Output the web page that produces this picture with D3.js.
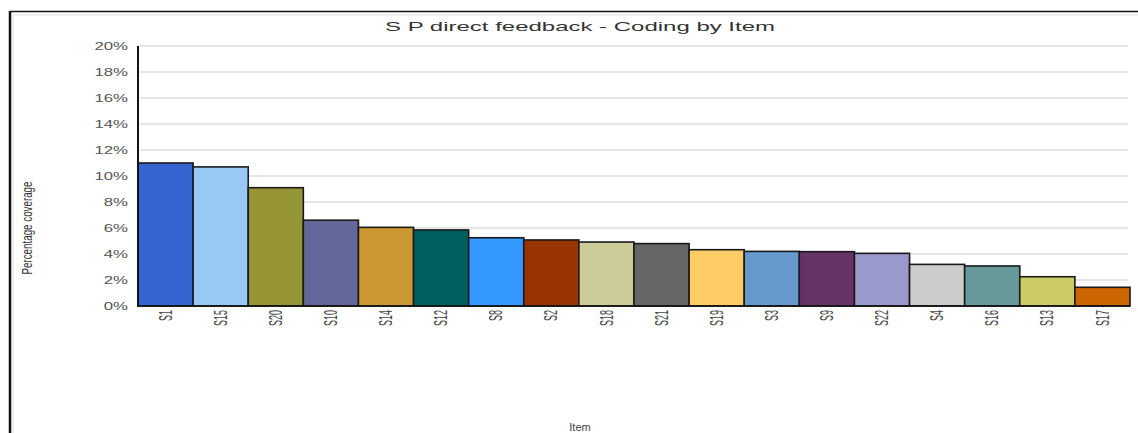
<!DOCTYPE html>
<html>
<head>
<meta charset="utf-8">
<script src="https://cdn.jsdelivr.net/npm/d3@7"></script>
<style>
  html, body { margin: 0; padding: 0; background: #fff; }
  svg { display: block; font-family: "Liberation Sans", Arial, sans-serif; }
</style>
</head>
<body>
<svg id="chart" width="1138" height="433"></svg>
<script>
const categories = ["S1","S15","S20","S10","S14","S12","S8","S2","S18","S21","S19","S3","S9","S22","S4","S16","S13","S17"];
const values = [11.0, 10.7, 9.1, 6.6, 6.05, 5.85, 5.25, 5.08, 4.92, 4.8, 4.33, 4.2, 4.18, 4.05, 3.2, 3.08, 2.25, 1.44];
const barColors = ["#3564D0","#98C9F5","#959535","#64679A","#CC9833","#00605F","#3399FF","#993300","#CCCC99","#666666","#FFCC66","#6699CC","#663366","#9999CC","#CCCCCC","#669999","#CCCC66","#CC6600"];
const yTicks = [0,2,4,6,8,10,12,14,16,18,20];
const title = "S P direct feedback - Coding by Item";
const xTitle = "Item";
const yTitle = "Percentage coverage";

const svg = d3.select("#chart");
const SX = 1.6; // horizontal stretch of the reference picture

const plot = { left: 138, right: 1130, top: 46, bottom: 306 };

const x = d3.scaleBand().domain(categories).range([plot.left, plot.right]).padding(0);
const y = d3.scaleLinear().domain([0, 20]).range([plot.bottom, plot.top]);

// frame
svg.append("line").attr("x1", 10).attr("x2", 1138).attr("y1", 11.5).attr("y2", 11.5)
  .attr("stroke", "#111").attr("stroke-width", 1.5);
svg.append("line").attr("x1", 10).attr("x2", 10).attr("y1", 11).attr("y2", 433)
  .attr("stroke", "#111").attr("stroke-width", 2.5);
svg.append("line").attr("x1", 13).attr("x2", 1138).attr("y1", 15).attr("y2", 15)
  .attr("stroke", "#f0f0f0").attr("stroke-width", 2);
svg.append("line").attr("x1", 13).attr("x2", 13).attr("y1", 14).attr("y2", 433)
  .attr("stroke", "#f0f0f0").attr("stroke-width", 2);

// gridlines
svg.append("g").selectAll("line").data(yTicks.filter(d => d > 0)).join("line")
  .attr("x1", plot.left + 2).attr("x2", 1128)
  .attr("y1", d => y(d)).attr("y2", d => y(d))
  .attr("stroke", "#dcdcdc").attr("stroke-width", 1.5);

// bars
svg.append("g").selectAll("rect").data(categories).join("rect")
  .attr("x", d => x(d))
  .attr("y", (d, i) => y(values[i]))
  .attr("width", x.bandwidth())
  .attr("height", (d, i) => y(0) - y(values[i]))
  .attr("fill", (d, i) => barColors[i])
  .attr("stroke", "#1a1a1a")
  .attr("stroke-width", 1.6);

// y axis
const yAxis = svg.append("g").attr("transform", `translate(${plot.left},0)`)
  .call(d3.axisLeft(y).tickValues(yTicks).tickFormat(d => d + "%").tickSize(0).tickPadding(0));
yAxis.select(".domain").remove();
yAxis.selectAll("text")
  .attr("x", 0).attr("dy", "0.35em")
  .attr("transform", `translate(-10,0) scale(${SX},1)`)
  .attr("fill", "#555").attr("font-size", 10.5)
  .attr("font-family", "'Liberation Sans', Arial, sans-serif");
svg.append("line").attr("x1", plot.left).attr("x2", plot.left)
  .attr("y1", plot.top).attr("y2", plot.bottom + 1)
  .attr("stroke", "#111").attr("stroke-width", 2);
svg.append("line").attr("x1", plot.left).attr("x2", plot.right)
  .attr("y1", plot.bottom).attr("y2", plot.bottom)
  .attr("stroke", "#111").attr("stroke-width", 1.5);

// x axis labels
const xAxis = svg.append("g").attr("transform", `translate(0,${plot.bottom})`)
  .call(d3.axisBottom(x).tickSize(0).tickPadding(0));
xAxis.select(".domain").remove();
xAxis.selectAll("text")
  .attr("x", 0).attr("y", 0).attr("dy", "0.35em")
  .attr("text-anchor", "end")
  .attr("transform", `translate(0,4) scale(1.95,1) rotate(-90)`)
  .attr("fill", "#444").attr("font-size", 9)
  .attr("font-family", "'Liberation Sans', Arial, sans-serif");

// title
svg.append("text").attr("x", 580).attr("y", 31)
  .attr("text-anchor", "middle")
  .attr("font-size", 13).attr("fill", "#333")
  .attr("textLength", 390).attr("lengthAdjust", "spacingAndGlyphs")
  .text(title);

// axis titles
svg.append("text")
  .attr("transform", `translate(32,228) scale(1.5,1) rotate(-90)`)
  .attr("text-anchor", "middle").attr("font-size", 10).attr("fill", "#333")
  .attr("textLength", 93).attr("lengthAdjust", "spacingAndGlyphs")
  .text(yTitle);
svg.append("text").attr("x", 580).attr("y", 431)
  .attr("text-anchor", "middle").attr("font-size", 11).attr("fill", "#444")
  .text(xTitle);
</script>
</body>
</html>
